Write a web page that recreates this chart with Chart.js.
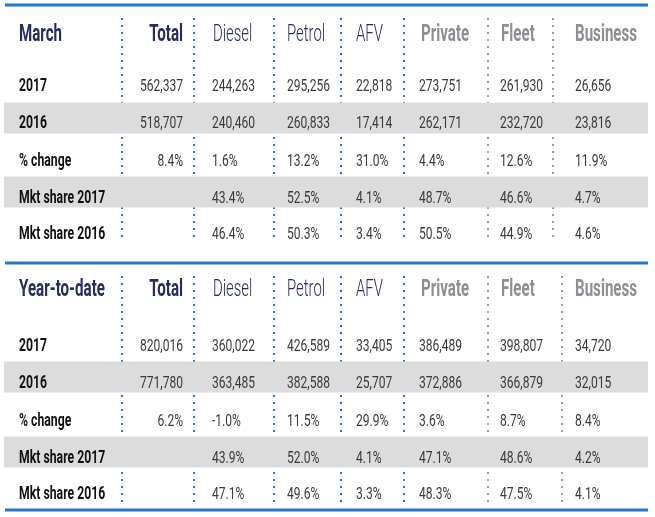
<!DOCTYPE html>
<html>
<head>
<meta charset="utf-8">
<script src="https://cdn.jsdelivr.net/npm/chart.js@4.4.1/dist/chart.umd.min.js"></script>
<style>
  html, body { margin: 0; padding: 0; background: #fff; }
  #table { display: block; }
</style>
</head>
<body>
<canvas id="table" width="655" height="517"></canvas>
<script>
// -------------------------
// Data
// -------------------------
const columns = ["Total", "Diesel", "Petrol", "AFV", "Private", "Fleet", "Business"];
const blockTitles = ["March", "Year-to-date"];
const rowLabels = ["2017", "2016", "% change", "Mkt share 2017", "Mkt share 2016"];

const march2017 = [562337, 244263, 295256, 22818, 273751, 261930, 26656];
const march2016 = [518707, 240460, 260833, 17414, 262171, 232720, 23816];
const marchChange = [8.4, 1.6, 13.2, 31.0, 4.4, 12.6, 11.9];
const marchShare2017 = [null, 43.4, 52.5, 4.1, 48.7, 46.6, 4.7];
const marchShare2016 = [null, 46.4, 50.3, 3.4, 50.5, 44.9, 4.6];

const ytd2017 = [820016, 360022, 426589, 33405, 386489, 398807, 34720];
const ytd2016 = [771780, 363485, 382588, 25707, 372886, 366879, 32015];
const ytdChange = [6.2, -1.0, 11.5, 29.9, 3.6, 8.7, 8.4];
const ytdShare2017 = [null, 43.9, 52.0, 4.1, 47.1, 48.6, 4.2];
const ytdShare2016 = [null, 47.1, 49.6, 3.3, 48.3, 47.5, 4.1];

const blocks = [
  [march2017, march2016, marchChange, marchShare2017, marchShare2016],
  [ytd2017, ytd2016, ytdChange, ytdShare2017, ytdShare2016],
];
const rowIsCount = [true, true, false, false, false];

// -------------------------
// Layout (scale units = canvas px)
// -------------------------
const labelX = 19;
const headerX = [183, 213, 287, 356, 421, 501, 575];
const valueX = [183, 212, 287, 356, 419, 500, 575];
const headerY = [32, 287];
const rowY = [
  [85, 122, 160, 197, 233],
  [345, 382, 420, 457, 493],
];
const bandY = [[118, 192], [377, 452]];
const ruleY = [5, 263, 510];
const sepX = [
  [122, 194, 274, 341, 404, 488, 553],
  [122, 194, 274, 341, 404, 488, 562],
];
const sepSpan = [[18, 242], [276, 502]];

const NAVY = "#252c5e";
const GREY_HEAD = "#8d8f95";
const BLUE = "#1f78d1";

const styles = {
  title:  { font: "bold 24px Roboto", color: NAVY, sx: 0.63 },
  total:  { font: "bold 24px Roboto", color: NAVY, sx: 0.63 },
  fuel:   { font: "300 24px Roboto", color: NAVY, sx: 0.62 },
  buyer:  { font: "bold 24px Roboto", color: GREY_HEAD, sx: 0.63 },
  label:  { font: "bold 18px Roboto", color: "#111", sx: 0.68 },
  value:  { font: "17px Roboto", color: "#3a3a3a", sx: 0.71 },
};
const headStyle = ["total", "fuel", "fuel", "fuel", "buyer", "buyer", "buyer"];

function fmt(v, count) {
  if (v === null) return null;
  return count ? v.toLocaleString("en-US") : v.toFixed(1) + "%";
}

// -------------------------
// Datasets
// -------------------------
const datasets = [];

// grey row bands
bandY.flat().forEach((y) => {
  datasets.push({
    type: "line",
    data: [{ x: 4, y: y }, { x: 648, y: y }],
    borderColor: "#dcdcdc",
    borderWidth: 31,
    borderCapStyle: "butt",
    pointRadius: 0,
    showLine: true,
  });
});

// dotted column separators
sepX.forEach((xs, b) => {
  xs.forEach((x, i) => {
    datasets.push({
      type: "line",
      data: [{ x: x, y: sepSpan[b][0] }, { x: x, y: sepSpan[b][1] }],
      borderColor: i < 5 ? BLUE : "#9b9b9b",
      borderWidth: 2,
      borderDash: [2, 5],
      pointRadius: 0,
      showLine: true,
    });
  });
});

// blue rules
ruleY.forEach((y) => {
  datasets.push({
    type: "line",
    data: [{ x: 5, y: y }, { x: 648, y: y }],
    borderColor: BLUE,
    borderWidth: 3,
    borderCapStyle: "butt",
    pointRadius: 0,
    showLine: true,
  });
});

// header rows
blocks.forEach((rows, b) => {
  datasets.push({
    data: [{ x: labelX, y: headerY[b] }].concat(columns.map((c, j) => ({ x: headerX[j], y: headerY[b] }))),
    cells: [blockTitles[b]].concat(columns),
    cellStyles: ["title"].concat(headStyle),
    cellAlign: ["left", "right", "left", "left", "left", "left", "left", "left"],
    pointRadius: 0,
  });

  // body rows
  rows.forEach((vals, r) => {
    const pts = [{ x: labelX, y: rowY[b][r] }];
    const cells = [rowLabels[r]];
    const st = ["label"];
    const al = ["left"];
    vals.forEach((v, j) => {
      if (v === null) return;
      pts.push({ x: valueX[j], y: rowY[b][r] });
      cells.push(fmt(v, rowIsCount[r]));
      st.push("value");
      al.push(j === 0 ? "right" : "left");
    });
    datasets.push({ data: pts, cells: cells, cellStyles: st, cellAlign: al, pointRadius: 0 });
  });
});

// -------------------------
// Cell text plugin
// -------------------------
const cellText = {
  id: "cellText",
  afterDatasetsDraw(chart) {
    const ctx = chart.ctx;
    chart.data.datasets.forEach((ds, i) => {
      if (!ds.cells) return;
      const meta = chart.getDatasetMeta(i);
      meta.data.forEach((pt, j) => {
        const s = styles[ds.cellStyles[j]];
        const size = parseFloat(s.font.match(/(\d+)px/)[1]);
        ctx.save();
        ctx.translate(pt.x, pt.y + size * 0.355);
        ctx.scale(s.sx, 1);
        ctx.font = s.font;
        ctx.fillStyle = s.color;
        ctx.textAlign = ds.cellAlign[j];
        ctx.textBaseline = "alphabetic";
        ctx.fillText(ds.cells[j], 0, 0);
        ctx.restore();
      });
    });
  },
};

new Chart(document.getElementById("table"), {
  type: "scatter",
  data: { datasets: datasets },
  options: {
    responsive: false,
    animation: false,
    layout: { padding: 0 },
    scales: {
      x: { type: "linear", min: 0, max: 655, display: false },
      y: { type: "linear", min: 0, max: 517, reverse: true, display: false },
    },
    plugins: { legend: { display: false }, tooltip: { enabled: false } },
  },
  plugins: [cellText],
});
</script>
</body>
</html>
